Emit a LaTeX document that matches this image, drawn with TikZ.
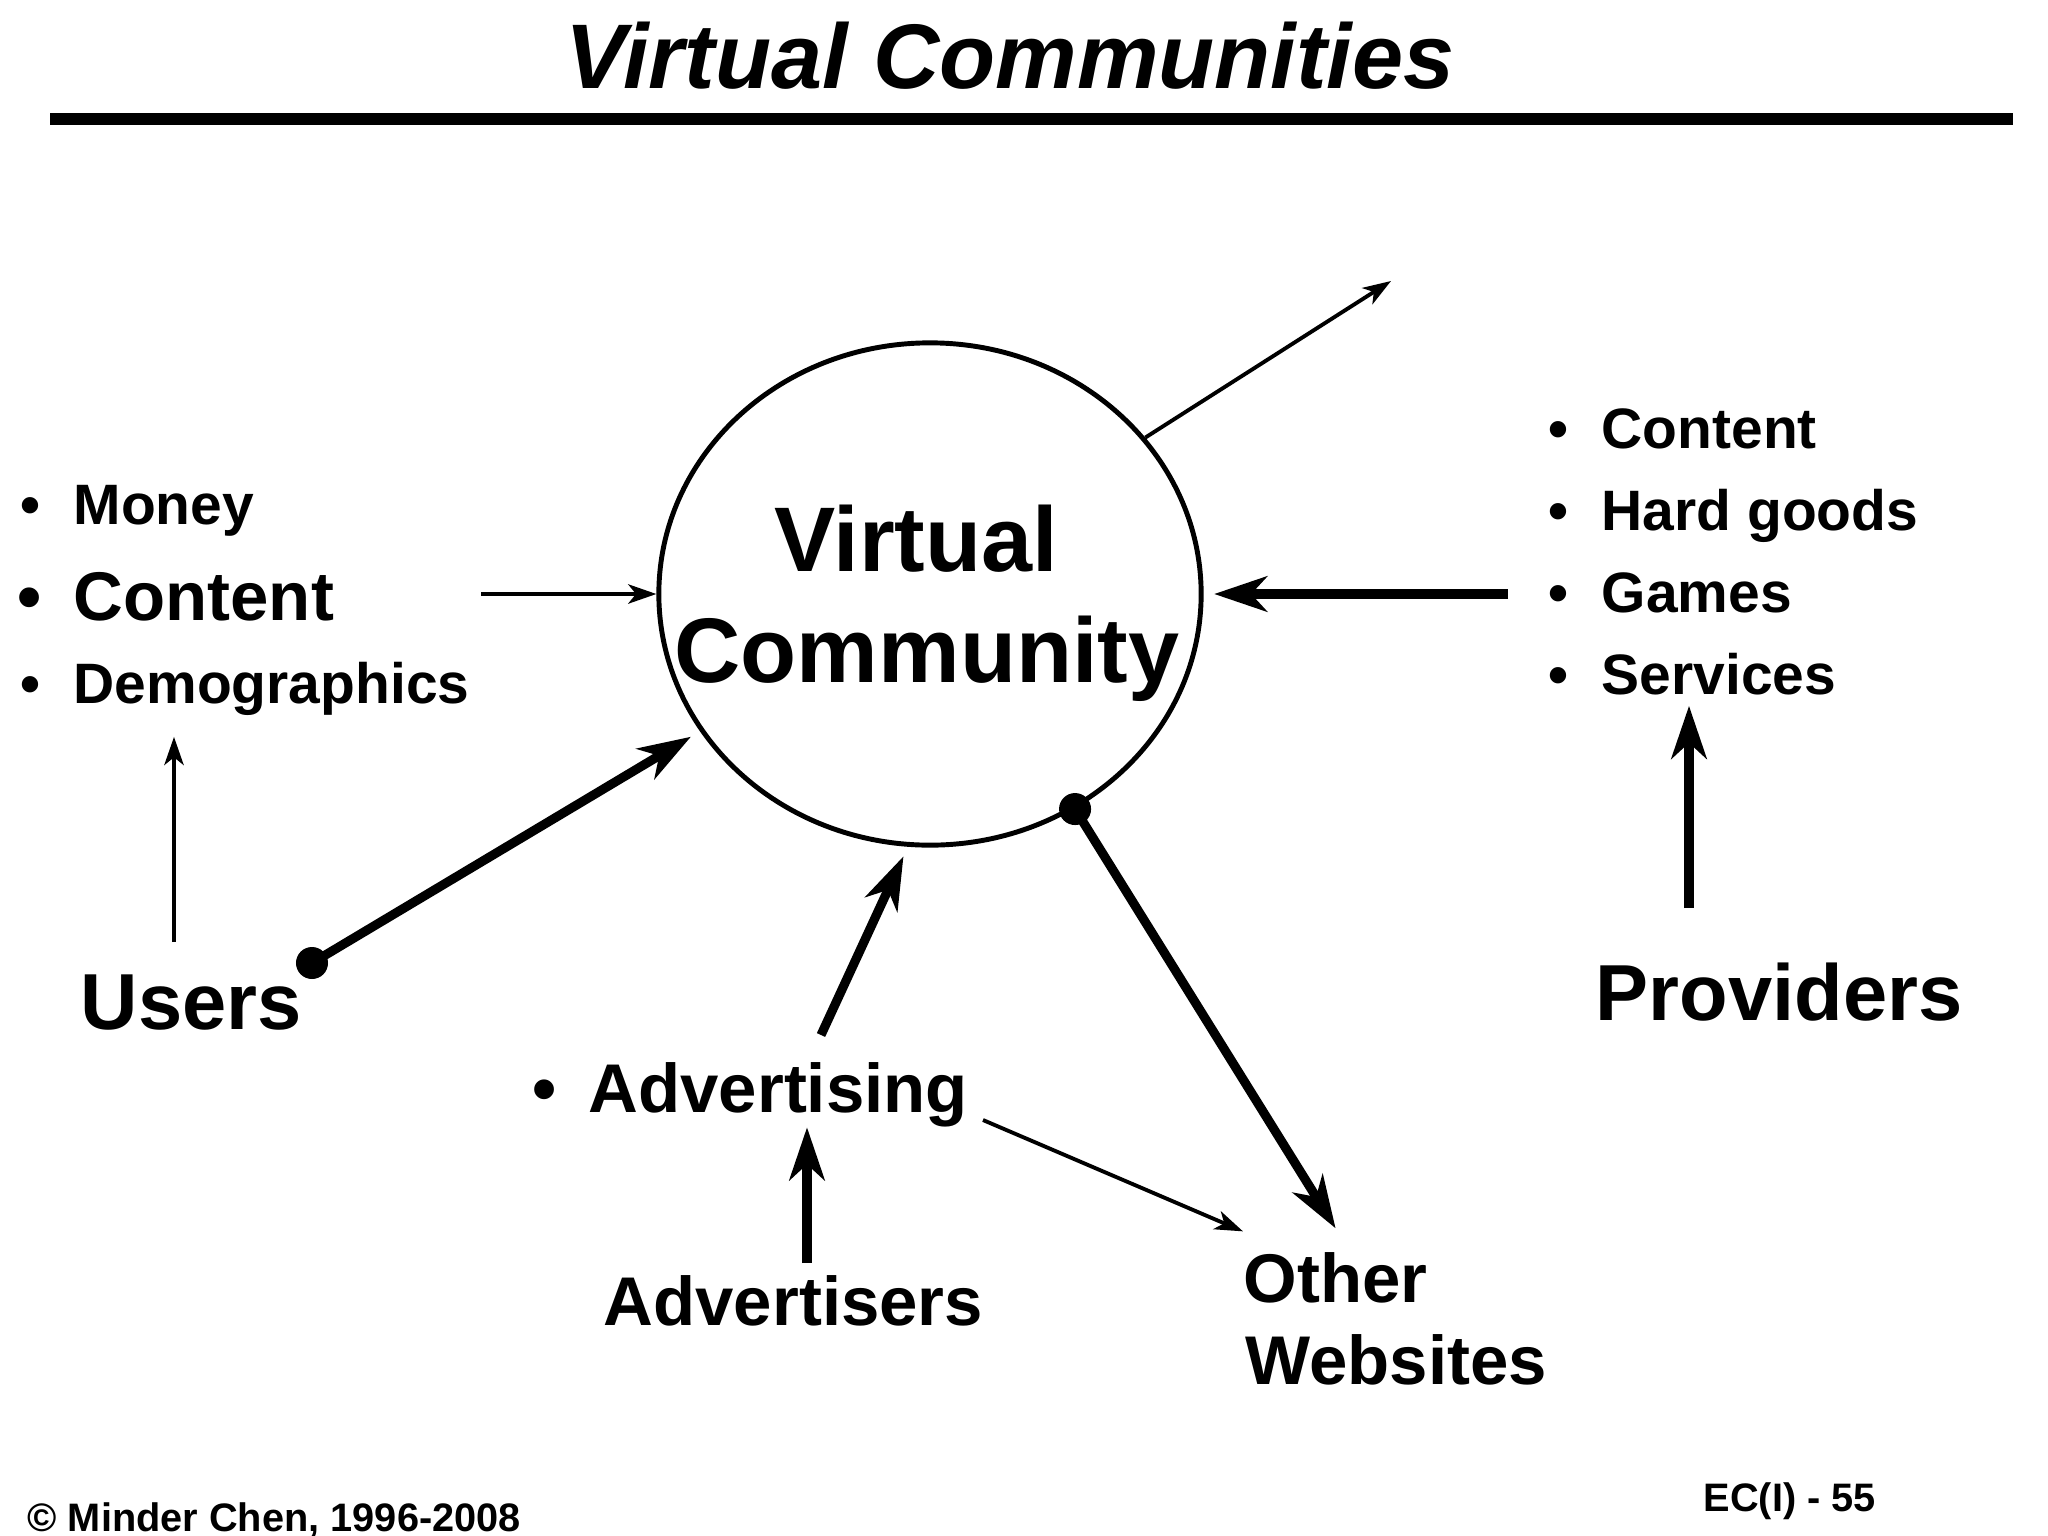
\documentclass[tikz,border=0pt]{standalone}
\usepackage{fontspec}
\setmainfont{Liberation Sans}
\usetikzlibrary{shapes.geometric,arrows.meta}
\newcommand{\fshuge}{\fontsize{26.1}{31.6}\selectfont\bfseries}
\newcommand{\fsbig}{\fontsize{22.6}{27}\selectfont\bfseries}
\newcommand{\fsmid}{\fontsize{19.6}{23}\selectfont\bfseries}
\newcommand{\fssmall}{\fontsize{16.2}{19}\selectfont\bfseries}
\newcommand{\fstiny}{\fontsize{11.3}{13}\selectfont\bfseries}
\tikzstyle{vclabel}=[inner sep=0pt, anchor=base west]
\tikzstyle{vccircle}=[ellipse, draw, line width=1.4pt, minimum width=5.42cm, minimum height=5.02cm, inner sep=0pt]
\tikzstyle{vcdot}=[circle, fill, inner sep=0pt, minimum size=0.32cm]
\tikzstyle{thinarrow}=[line width=1.1pt, -{Stealth[length=8pt, width=5.5pt, inset=2.2pt]}]
\tikzstyle{thickarrow}=[line width=2.6pt, -{Stealth[length=15pt, width=10pt, inset=4.5pt]}]
\newcommand{\vcitem}[4]{
	\node[vclabel, font=#3] (#1) at (#2) {#4};
	\node[vclabel, font=#3, anchor=base] at ([xshift=-0.43cm]#1.base west) {\textbullet};}
\newcommand{\vcname}[4]{
	\node[vclabel, font=#3] (#1) at (#2) {#4};}

\begin{document}
\begin{tikzpicture}[x=0.01cm, y=-0.01cm]
	\useasboundingbox (0,0) rectangle (2048,1536);
	\node[vclabel, anchor=base, font=\fshuge\itshape] (title) at (1010,88) {Virtual Communities};
	\draw[line width=3.4pt] (50,119) -- (2013,119);
	
	\node[vccircle] (vc) at (930,594) {};
	\node[inner sep=0pt, align=center, font=\fshuge] (vctitle) at (927,603) {Virtual\hspace*{0.22cm}\\Community};
	
	\vcitem{money}{73,524}{\fssmall}{Money}
	\vcitem{lcontent}{73,620}{\fsmid}{Content}
	\vcitem{demo}{73,703}{\fssmall}{Demographics}
	\vcname{users}{80,1029}{\fsbig}{Users}
	
	\vcitem{rcontent}{1601,448}{\fssmall}{Content}
	\vcitem{hard}{1601,530}{\fssmall}{Hard goods}
	\vcitem{games}{1601,612}{\fssmall}{Games}
	\vcitem{services}{1601,694}{\fssmall}{Services}
	\vcname{providers}{1595,1020}{\fsbig}{Providers}
	
	\vcitem{advertising}{588,1112}{\fsmid}{Advertising}
	\vcname{advertisers}{603,1325}{\fsmid}{Advertisers}
	\vcname{other}{1243,1302}{\fsmid}{Other}
	\vcname{websites}{1245,1384}{\fsmid}{Websites}
	
	\vcname{copyright}{27,1531}{\fstiny}{\textcopyright{} Minder Chen, 1996-2008}
	\vcname{page}{1703,1511}{\fstiny}{EC(I) - 55}
	
	\node[vcdot] (udot) at (312,963) {};
	\node[vcdot] (odot) at (vc.304) {};
	\coordinate (lstart) at (481,594);
	\coordinate (rstart) at (1508,594);
	\coordinate (outend) at (1391,281);
	\coordinate (uup) at (174,942);
	\coordinate (pup) at (1689,908);
	\coordinate (adup) at (821,1035);
	\coordinate (asup) at (807,1263);
	\coordinate (adright) at (983,1120);
	
	\draw[thinarrow] (lstart) -- (vc);
	\draw[thinarrow, shorten >=6pt] (uup) -- (uup |- demo.south);
	\draw[thickarrow, shorten >=3pt] (udot.center) -- (vc);
	\draw[thickarrow, shorten >=3pt] (rstart) -- (vc);
	\draw[thickarrow, shorten >=3pt] (pup) -- (pup |- services.south);
	\draw[thinarrow] (vc.36) -- (outend);
	\draw[thickarrow, shorten >=3pt] (adup) -- (vc.265);
	\draw[thickarrow] (asup) -- (asup |- advertising.south);
	\draw[thinarrow] (adright) -- ([yshift=0.2cm]other.north west);
	\draw[thickarrow] (odot.center) -- ([yshift=0.23cm]other.north);
\end{tikzpicture}
\end{document}
